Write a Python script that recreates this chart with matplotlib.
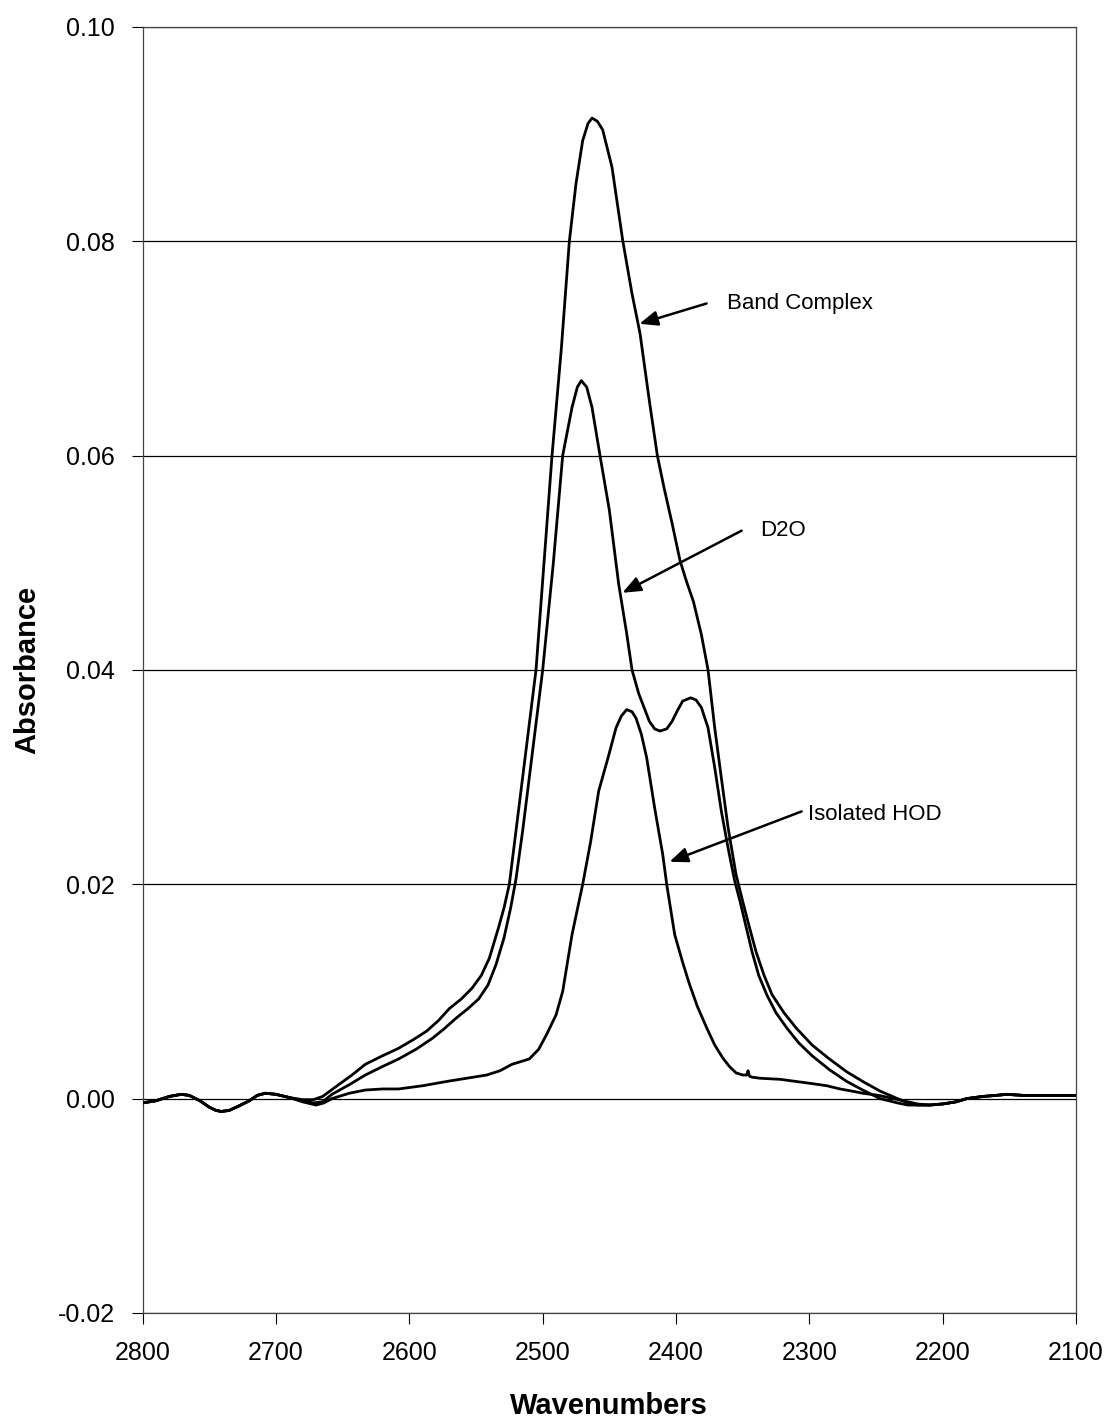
import matplotlib
matplotlib.use("Agg")
import matplotlib.pyplot as plt

plt.rcParams['font.family'] = ['Liberation Sans', 'DejaVu Sans']

# wavenumbers (cm-1) and absorbance
base_wn = [2800, 2790, 2780, 2771, 2765, 2757, 2750, 2745, 2741, 2735, 2728,
           2720, 2714, 2708, 2700, 2690]
base_abs = [-0.0004, -0.0002, 0.0002, 0.0004, 0.0003, -0.0002, -0.0008, -0.0011,
            -0.0012, -0.0011, -0.0007, -0.0002, 0.0003, 0.0005, 0.0004, 0.0001]

bc_wn = base_wn + [2680, 2672, 2665, 2653, 2643, 2633, 2620, 2608, 2597, 2587,
                   2578, 2570, 2561, 2553, 2546, 2540, 2533, 2529, 2525, 2520,
                   2515, 2510, 2505, 2499, 2493, 2486, 2480, 2475, 2470, 2466,
                   2463, 2459, 2455, 2448, 2440, 2433, 2427, 2420, 2414, 2409,
                   2403, 2397, 2392, 2387, 2381, 2376, 2371, 2366, 2361, 2355,
                   2350, 2345, 2340, 2334, 2328, 2319, 2310, 2298, 2285, 2272,
                   2260, 2247, 2234, 2226, 2219, 2210, 2200, 2190, 2182, 2170,
                   2160, 2152, 2140, 2120, 2100]
bc_abs = base_abs + [-0.0001, -0.0001, 0.0002, 0.0013, 0.0022, 0.0032, 0.0040,
                     0.0047, 0.0055, 0.0063, 0.0073, 0.0084, 0.0093, 0.0103,
                     0.0115, 0.0131, 0.0160, 0.0178, 0.0200, 0.0250, 0.0300,
                     0.0350, 0.0400, 0.0500, 0.0600, 0.0700, 0.0800, 0.0854,
                     0.0894, 0.0910, 0.0915, 0.0912, 0.0904, 0.0869, 0.0801,
                     0.0751, 0.0714, 0.0651, 0.0600, 0.0570, 0.0537, 0.0502,
                     0.0482, 0.0464, 0.0433, 0.0400, 0.0346, 0.0299, 0.0253,
                     0.0209, 0.0184, 0.0160, 0.0137, 0.0115, 0.0097, 0.0080,
                     0.0066, 0.0050, 0.0037, 0.0025, 0.0016, 0.0007, 0.0000,
                     -0.0004, -0.0006, -0.0006, -0.0005, -0.0003, 0.0000, 0.0002,
                     0.0003, 0.0004, 0.0003, 0.0003, 0.0003]

d2o_wn = base_wn + [2680, 2672, 2665, 2658, 2645, 2633, 2620, 2608, 2595, 2583,
                    2574, 2565, 2556, 2548, 2541, 2535, 2529, 2524, 2520, 2515,
                    2509, 2500, 2492, 2485, 2478, 2474, 2471, 2467, 2463, 2457,
                    2450, 2443, 2437, 2433, 2428, 2420, 2416, 2412, 2407, 2403,
                    2399, 2395, 2389, 2385, 2381, 2376, 2371, 2366, 2361, 2356,
                    2352, 2343, 2338, 2332, 2325, 2317, 2308, 2298, 2285, 2272,
                    2260, 2247, 2234, 2226, 2219, 2210, 2200, 2190, 2182, 2170,
                    2160, 2152, 2140, 2120, 2100]
d2o_abs = base_abs + [-0.0002, -0.0004, -0.0003, 0.0004, 0.0013, 0.0022, 0.0030,
                      0.0037, 0.0046, 0.0056, 0.0065, 0.0075, 0.0084, 0.0093,
                      0.0106, 0.0125, 0.0150, 0.0178, 0.0205, 0.0250, 0.0310,
                      0.0400, 0.0500, 0.0600, 0.0645, 0.0664, 0.0670, 0.0664,
                      0.0645, 0.0600, 0.0549, 0.0480, 0.0434, 0.0400, 0.0378,
                      0.0352, 0.0345, 0.0343, 0.0345, 0.0352, 0.0362, 0.0371,
                      0.0374, 0.0372, 0.0365, 0.0346, 0.0309, 0.0268, 0.0234,
                      0.0203, 0.0184, 0.0137, 0.0115, 0.0097, 0.0080, 0.0066,
                      0.0052, 0.0040, 0.0027, 0.0016, 0.0008, 0.0000, -0.0004,
                      -0.0006, -0.0006, -0.0006, -0.0005, -0.0003, 0.0000, 0.0002,
                      0.0003, 0.0004, 0.0003, 0.0003, 0.0003]

hod_wn = base_wn + [2680, 2670, 2664, 2658, 2645, 2633, 2620, 2608, 2590, 2572,
                    2557, 2542, 2532, 2523, 2510, 2503, 2497, 2490, 2485, 2478,
                    2470, 2464, 2458, 2451, 2445, 2441, 2437, 2433, 2430, 2426,
                    2422, 2416, 2410, 2407, 2401, 2395, 2390, 2384, 2377, 2371,
                    2365, 2360, 2355, 2350, 2347, 2346, 2345, 2343, 2337, 2322,
                    2310, 2298, 2287, 2277, 2268, 2260, 2248, 2237, 2226, 2219,
                    2210, 2200, 2190, 2182, 2170, 2160, 2152, 2140, 2120, 2100]
hod_abs = base_abs + [-0.0003, -0.0006, -0.0004, 0.0000, 0.0005, 0.0008, 0.0009,
                      0.0009, 0.0012, 0.0016, 0.0019, 0.0022, 0.0026, 0.0032,
                      0.0037, 0.0046, 0.0060, 0.0078, 0.0100, 0.0153, 0.0200,
                      0.0240, 0.0287, 0.0318, 0.0346, 0.0357, 0.0363, 0.0361,
                      0.0355, 0.0340, 0.0318, 0.0271, 0.0228, 0.0200, 0.0153,
                      0.0127, 0.0107, 0.0086, 0.0066, 0.0050, 0.0038, 0.0030,
                      0.0024, 0.0022, 0.0022, 0.0026, 0.0021, 0.0020, 0.0019,
                      0.0018, 0.0016, 0.0014, 0.0012, 0.0009, 0.0007, 0.0005,
                      0.0003, 0.0000, -0.0003, -0.0005, -0.0006, -0.0005, -0.0003,
                      0.0000, 0.0002, 0.0003, 0.0004, 0.0003, 0.0003, 0.0003]

labels = ["Band Complex", "D2O", "Isolated HOD"]
arrow_tips = [(2427.5, 0.0723), (2440.2, 0.0472), (2404.9, 0.0221)]
arrow_tails = [(2377.1, 0.0742), (2350.8, 0.0530), (2305.8, 0.0268)]
label_pos = [(2362.1, 0.0742), (2337.3, 0.0530), (2301.3, 0.0265)]

y_ticks = [-0.02, 0.00, 0.02, 0.04, 0.06, 0.08, 0.10]
x_ticks = [2800, 2700, 2600, 2500, 2400, 2300, 2200, 2100]

fig = plt.figure(figsize=(11.14, 14.2), dpi=100)
ax = fig.add_axes([0.128, 0.0754, 0.838, 0.9056])

for wn, ab in [(bc_wn, bc_abs), (d2o_wn, d2o_abs), (hod_wn, hod_abs)]:
    ax.plot(wn, ab, color='black', lw=2.0, zorder=3, solid_joinstyle='round')

for lab, tip, tail, pos in zip(labels, arrow_tips, arrow_tails, label_pos):
    ax.annotate('', xy=tip, xytext=tail,
                arrowprops=dict(arrowstyle='-|>,head_length=1.1,head_width=0.45',
                                color='black', lw=1.8, shrinkA=0, shrinkB=0))
    ax.text(pos[0], pos[1], lab, fontsize=16, va='center', ha='left')

ax.set_xlim(2800, 2100)
ax.set_ylim(-0.02, 0.10)
ax.set_xticks(x_ticks)
ax.set_yticks(y_ticks)
ax.set_xticklabels([str(t) for t in x_ticks])
ax.set_yticklabels(['%.2f' % t for t in y_ticks])
ax.tick_params(axis='both', direction='out', length=8, width=0.8, labelsize=18)
ax.tick_params(axis='x', pad=12)
ax.tick_params(axis='y', pad=12)
ax.yaxis.grid(True, color='black', lw=0.9)
ax.set_axisbelow(True)
for s in ax.spines.values():
    s.set_color('#444444')
    s.set_linewidth(0.9)

ax.set_xlabel('Wavenumbers', fontsize=21, fontweight='bold', labelpad=20)
ax.set_ylabel('Absorbance', fontsize=21, fontweight='bold', labelpad=12)

fig.savefig('out.png', dpi=100)
